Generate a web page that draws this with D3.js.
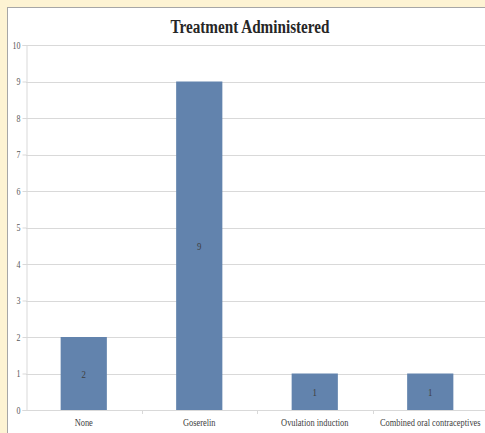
<!DOCTYPE html>
<html>
<head>
<meta charset="utf-8">
<script src="https://cdn.jsdelivr.net/npm/d3@7"></script>
<style>
  body { margin: 0; background: #fdf3d3; }
  svg { display: block; }
</style>
</head>
<body>
<div id="chart"></div>
<script>
const categories = ["None", "Goserelin", "Ovulation induction", "Combined oral contraceptives"];
const counts = [2, 9, 1, 1];
const yTicks = [0, 1, 2, 3, 4, 5, 6, 7, 8, 9, 10];

const W = 485, H = 433;
const margin = { top: 45, right: -3, bottom: 23, left: 26 };
const squeeze = 0.8; // the source text is horizontally condensed

const svg = d3.select("#chart")
    .append("svg")
    .attr("width", W)
    .attr("height", H);

// white panel with grey border
svg.append("rect")
    .attr("x", 7.5).attr("y", 7.5)
    .attr("width", W).attr("height", H)
    .attr("fill", "#fff")
    .attr("stroke", "#a6a6a6");

const x = d3.scaleBand()
    .domain(categories)
    .range([margin.left, W - margin.right]);

const y = d3.scaleLinear()
    .domain([0, 10])
    .range([H - margin.bottom, margin.top]);

// gridlines
svg.append("g")
    .selectAll("line")
    .data(yTicks)
    .join("line")
    .attr("x1", margin.left)
    .attr("x2", W)
    .attr("y1", d => Math.round(y(d)) + 0.5)
    .attr("y2", d => Math.round(y(d)) + 0.5)
    .attr("stroke", "#d9d9d9");

// bars
const barW = x.bandwidth() * 0.4;
svg.append("g")
    .selectAll("rect")
    .data(counts)
    .join("rect")
    .attr("x", (d, i) => x(categories[i]) + x.bandwidth() / 2 - barW / 2)
    .attr("y", d => y(d))
    .attr("width", barW)
    .attr("height", d => y(0) - y(d))
    .attr("fill", "#6283ad");

// data labels
svg.append("g")
    .selectAll("text")
    .data(counts)
    .join("text")
    .attr("transform", (d, i) =>
        `translate(${x(categories[i]) + x.bandwidth() / 2},${(y(d) + y(0)) / 2 + 4}) scale(${squeeze},1)`)
    .attr("text-anchor", "middle")
    .attr("font-family", "Liberation Serif")
    .attr("font-size", "11px")
    .style("fill", "#404040")
    .text(d => d);

// y axis
const yAxis = svg.append("g")
    .attr("transform", `translate(${margin.left + 0.5},0)`)
    .call(d3.axisLeft(y).tickValues(yTicks).tickSize(4)
        .tickFormat(d3.format("d")));
yAxis.select(".domain").attr("stroke", "#d9d9d9");
yAxis.selectAll(".tick line").attr("stroke", "#d9d9d9");
yAxis.selectAll("text")
    .attr("x", -6 / squeeze)
    .attr("transform", `scale(${squeeze},1)`)
    .attr("font-family", "Liberation Serif")
    .attr("font-size", "10px")
    .style("fill", "#595959");

// x axis
const xAxis = svg.append("g")
    .attr("transform", `translate(0,${Math.round(y(0)) + 0.5})`)
    .call(d3.axisBottom(x).tickSize(0).tickPadding(8));
xAxis.select(".domain").remove();
xAxis.selectAll("text")
    .attr("transform", `scale(${squeeze},1)`)
    .attr("font-family", "Liberation Serif")
    .attr("font-size", "10.5px")
    .style("fill", "#404040");
// category separators
svg.append("g")
    .selectAll("line")
    .data(categories.slice(1))
    .join("line")
    .attr("x1", d => Math.round(x(d)) + 0.5)
    .attr("x2", d => Math.round(x(d)) + 0.5)
    .attr("y1", y(0))
    .attr("y2", y(0) + 4)
    .attr("stroke", "#d9d9d9");

// title
svg.append("text")
    .attr("transform", `translate(250,33) scale(${squeeze},1)`)
    .attr("text-anchor", "middle")
    .attr("font-family", "Liberation Serif")
    .attr("font-weight", "bold")
    .attr("font-size", "19px")
    .style("fill", "#262626")
    .text("Treatment Administered");
</script>
</body>
</html>
